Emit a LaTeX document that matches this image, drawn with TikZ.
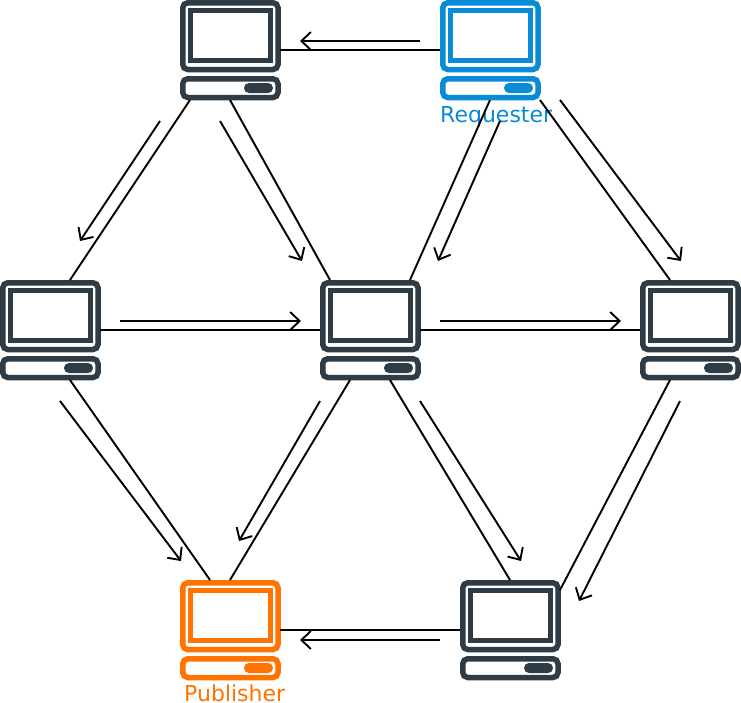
\documentclass[tikz,border=0pt]{standalone}
\usepackage{fontspec}
\setmainfont{DejaVu Sans}
\usetikzlibrary{arrows.meta,calc}
\definecolor{dark}{HTML}{2F3C45}
\definecolor{blue1}{HTML}{0A8BD6}
\definecolor{orange1}{HTML}{FF7300}
\tikzset{
  x=1pt,y=-1pt,
  pcframe/.style={draw=#1,line width=5.5pt,fill=white,rounded corners=5pt},
  pcscreen/.style={draw=#1,line width=5pt,fill=white},
  pcbutton/.style={fill=#1,rounded corners=4.9pt,draw=none},
  pcbox/.style={minimum width=100pt,minimum height=100pt,inner sep=0pt,outer sep=0pt,anchor=north west},
  link/.style={draw=black,line width=1.9pt},
  flow/.style={draw=black,line width=1.9pt,-{Straight Barb[length=9.5pt,width=18pt,line width=1.9pt]}},
  lab/.style={font=\fontsize{22pt}{26pt}\selectfont,inner sep=0pt,anchor=base west},
}
\newcommand{\pcicon}[4]{%
  \node[pcbox] (#1) at (#2,#3) {};
  \begin{scope}[shift={(#1.north west)}]
    \draw[pcframe=#4] (2.75,2.75) rectangle (98,69.5);
    \draw[pcscreen=#4] (10.5,10.5) rectangle (90.75,60.75);
    \draw[pcframe=#4] (2.75,78.75) rectangle (98,97.5);
    \fill[pcbutton=#4] (64,83) rectangle (93,93);
  \end{scope}}
\begin{document}
\begin{tikzpicture}
\useasboundingbox (0,0) rectangle (741,702);
\pcicon{na}{180}{0}{dark}
\pcicon{nr}{440}{0}{blue1}
\pcicon{nl}{0}{280}{dark}
\pcicon{nc}{320}{280}{dark}
\pcicon{ng}{640}{280}{dark}
\pcicon{np}{180}{580}{orange1}
\pcicon{nq}{460}{580}{dark}
\node[lab,text=blue1] (t1) at (440,122) {Requester};
\node[lab,text=orange1] (t2) at (184,701) {Publisher};
\draw[link] ($(na.north east)+(0,50)$) -- ($(nr.north west)+(0,50)$);
\draw[link] ($(na.south west)+(10,0)$) -- ($(nl.north west)+(70,0)$);
\draw[link] ($(na.south west)+(50,0)$) -- ($(nc.north west)+(10,0)$);
\draw[link] ($(nr.south west)+(50,0)$) -- ($(nc.north west)+(90,0)$);
\draw[link] (nr.south east) -- ($(ng.north west)+(30,0)$);
\draw[link] ($(nl.north east)+(0,50)$) -- ($(nc.north west)+(0,50)$);
\draw[link] ($(nc.north east)+(0,50)$) -- ($(ng.north west)+(0,50)$);
\draw[link] ($(nl.south west)+(70,0)$) -- ($(np.north west)+(30,0)$);
\draw[link] ($(nc.south west)+(30,0)$) -- ($(np.north west)+(50,0)$);
\draw[link] ($(nc.south west)+(70,0)$) -- ($(nq.north west)+(50,0)$);
\draw[link] ($(ng.south west)+(30,0)$) -- ($(nq.north east)+(0,10)$);
\draw[link] ($(np.north east)+(0,50)$) -- ($(nq.north west)+(0,50)$);
\coordinate (f1a) at (420,41);  \coordinate (f1b) at (300,41);
\coordinate (f2a) at (160,121); \coordinate (f2b) at (80,241);
\coordinate (f3a) at (220,121); \coordinate (f3b) at (302,261);
\coordinate (f4a) at (500,121); \coordinate (f4b) at (438,261);
\coordinate (f5a) at (560,100); \coordinate (f5b) at (681,261);
\coordinate (f6a) at (120,321); \coordinate (f6b) at (301,321);
\coordinate (f7a) at (440,321); \coordinate (f7b) at (621,321);
\coordinate (f8a) at (60,401);  \coordinate (f8b) at (181,561);
\coordinate (f9a) at (320,401); \coordinate (f9b) at (239,541);
\coordinate (f10a) at (420,401); \coordinate (f10b) at (521,561);
\coordinate (f11a) at (680,401); \coordinate (f11b) at (579,601);
\coordinate (f12a) at (440,640); \coordinate (f12b) at (300,640);
\foreach \i in {1,...,12} {\draw[flow] (f\i a) -- (f\i b);}
\end{tikzpicture}
\end{document}
